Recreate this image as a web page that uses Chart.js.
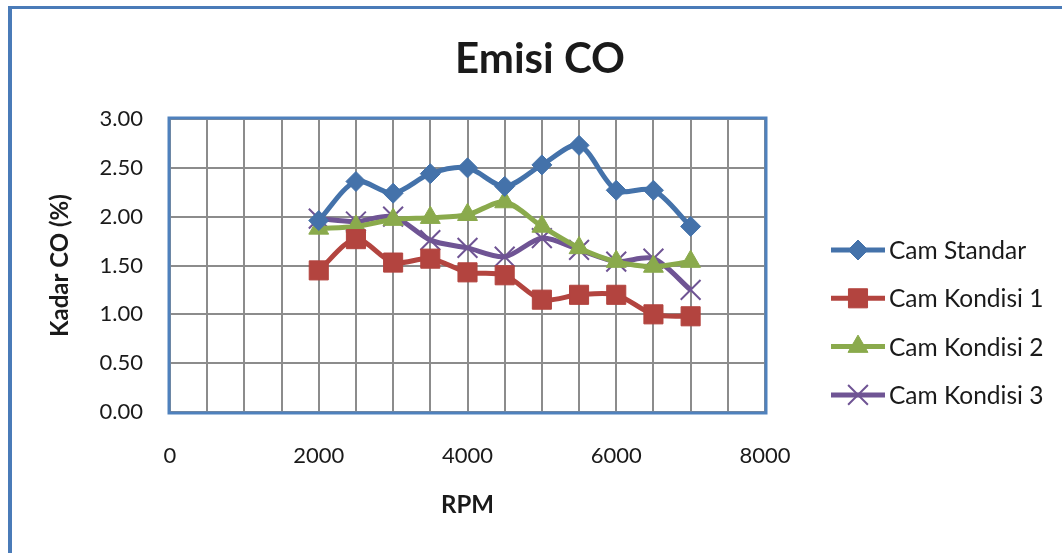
<!DOCTYPE html>
<html>
<head>
<meta charset="utf-8">
<title>Emisi CO</title>
<script src="https://cdn.jsdelivr.net/npm/chart.js@4/dist/chart.umd.min.js"></script>
<style>
  html, body { margin: 0; padding: 0; background: #ffffff; }
  #wrap { width: 1062px; height: 553px; position: relative; }
  canvas { display: block; }
</style>
</head>
<body>
<div id="wrap"><canvas id="chart" width="1062" height="553"></canvas></div>
<script>
// Engine speed (RPM) at which CO was measured
const rpm = [2000, 2500, 3000, 3500, 4000, 4500, 5000, 5500, 6000, 6500, 7000];

// CO content (%) per camshaft configuration
const camStandar  = [1.96, 2.36, 2.24, 2.44, 2.50, 2.31, 2.53, 2.73, 2.27, 2.27, 1.90];
const camKondisi1 = [1.45, 1.77, 1.53, 1.57, 1.43, 1.40, 1.15, 1.20, 1.20, 1.00, 0.98];
const camKondisi2 = [1.88, 1.90, 1.97, 1.99, 2.02, 2.15, 1.90, 1.68, 1.54, 1.49, 1.54];
const camKondisi3 = [1.98, 1.95, 2.00, 1.76, 1.68, 1.59, 1.78, 1.66, 1.54, 1.57, 1.25];

const seriesNames = ['Cam Standar', 'Cam Kondisi 1', 'Cam Kondisi 2', 'Cam Kondisi 3'];
const xTickLabels = ['0', '2000', '4000', '6000', '8000'];
const yTickLabels = ['0.00', '0.50', '1.00', '1.50', '2.00', '2.50', '3.00'];

const FONT = 'Lato, "Open Sans", "DejaVu Sans", sans-serif';

function pairs(values) {
  return values.map((v, i) => ({ x: rpm[i], y: v }));
}

const styles = [
  { color: '#4472aa', pointStyle: 'rectRot',  radius: 10, pointBorderWidth: 1 },
  { color: '#b3443f', pointStyle: 'rect',     radius: 13.5, pointBorderWidth: 1 },
  { color: '#8aaa4c', pointStyle: 'triangle', radius: 11.5, pointBorderWidth: 1 },
  { color: '#6f5494', pointStyle: 'crossRot', radius: 14, pointBorderWidth: 2 }
];

const seriesValues = [camStandar, camKondisi1, camKondisi2, camKondisi3];

const datasets = seriesValues.map((vals, i) => ({
  label: seriesNames[i],
  data: pairs(vals),
  showLine: true,
  borderColor: styles[i].color,
  backgroundColor: styles[i].color,
  borderWidth: 5,
  tension: 0.3,
  pointStyle: styles[i].pointStyle,
  pointRadius: styles[i].radius,
  pointHoverRadius: styles[i].radius,
  pointBackgroundColor: styles[i].color,
  pointBorderColor: styles[i].color,
  pointBorderWidth: styles[i].pointBorderWidth
}));

// Frame, plot border, title and legend
const decorations = {
  id: 'decorations',
  afterDraw(chart) {
    const ctx = chart.ctx;
    const a = chart.chartArea;
    ctx.save();

    // outer chart frame (top and left edges)
    ctx.strokeStyle = '#4a7bb8';
    ctx.lineWidth = 3;
    ctx.beginPath();
    ctx.moveTo(8, 7.5);
    ctx.lineTo(1062, 7.5);
    ctx.stroke();
    ctx.lineWidth = 4;
    ctx.beginPath();
    ctx.moveTo(10, 6);
    ctx.lineTo(10, 553);
    ctx.stroke();

    // plot area border
    ctx.strokeStyle = '#4f81bd';
    ctx.lineWidth = 3;
    ctx.strokeRect(a.left - 1, a.top - 1, a.right - a.left + 2, a.bottom - a.top + 2);

    // title
    ctx.fillStyle = '#1a1a1a';
    ctx.font = 'bold 42px ' + FONT;
    ctx.textAlign = 'center';
    ctx.textBaseline = 'alphabetic';
    ctx.fillText('Emisi CO', 540, 73);

    // legend
    const lx0 = 831, lx1 = 885, tx = 889;
    ctx.font = '24.5px ' + FONT;
    ctx.textAlign = 'left';
    ctx.textBaseline = 'middle';
    chart.data.datasets.forEach((ds, i) => {
      const y = 250 + i * 48.3;
      ctx.strokeStyle = ds.borderColor;
      ctx.lineWidth = 5;
      ctx.beginPath();
      ctx.moveTo(lx0, y);
      ctx.lineTo(lx1, y);
      ctx.stroke();
      ctx.fillStyle = ds.pointBackgroundColor;
      ctx.strokeStyle = ds.pointBorderColor;
      ctx.lineWidth = ds.pointBorderWidth;
      Chart.helpers.drawPoint(ctx, {
        pointStyle: ds.pointStyle,
        radius: ds.pointRadius,
        rotation: 0,
        borderWidth: ds.pointBorderWidth
      }, (lx0 + lx1) / 2, y);
      ctx.fillStyle = '#1a1a1a';
      ctx.fillText(ds.label, tx, y + 1);
    });

    ctx.restore();
  }
};

new Chart(document.getElementById('chart'), {
  type: 'scatter',
  data: { datasets },
  options: {
    responsive: false,
    animation: false,
    events: [],
    layout: { padding: { left: 0, top: 119, right: 297, bottom: 0 } },
    plugins: {
      legend: { display: false },
      title: { display: false },
      tooltip: { enabled: false }
    },
    scales: {
      x: {
        type: 'linear',
        min: 0,
        max: 8000,
        afterFit(scale) { scale.height = 141; },
        border: { display: false },
        grid: { color: '#8c8c8c', lineWidth: 2, drawTicks: false },
        ticks: {
          stepSize: 500,
          autoSkip: false,
          maxRotation: 0,
          padding: 31,
          color: '#1a1a1a',
          font: { family: FONT, size: 22 },
          callback(v) {
            const idx = xTickLabels.indexOf(String(v));
            return idx >= 0 ? xTickLabels[idx] : '';
          }
        },
        title: {
          display: true,
          text: 'RPM',
          color: '#1a1a1a',
          font: { family: FONT, size: 24, weight: 'bold' },
          padding: { top: 0, bottom: 33 }
        }
      },
      y: {
        type: 'linear',
        min: 0,
        max: 3,
        afterFit(scale) { scale.width = 170; },
        border: { display: false },
        grid: { color: '#8c8c8c', lineWidth: 2, drawTicks: false },
        ticks: {
          stepSize: 0.5,
          padding: 27,
          color: '#1a1a1a',
          font: { family: FONT, size: 22 },
          callback(v) {
            const idx = Math.round(v / 0.5);
            return yTickLabels[idx];
          }
        },
        title: {
          display: true,
          text: 'Kadar CO (%)',
          color: '#1a1a1a',
          font: { family: FONT, size: 24, weight: 'bold' },
          padding: { top: 46, bottom: 0 }
        }
      }
    }
  },
  plugins: [decorations]
});
</script>
</body>
</html>
